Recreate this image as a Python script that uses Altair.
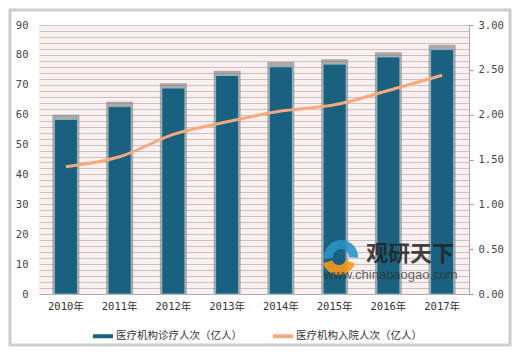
import altair as alt
import pandas as pd

years = ["2010年", "2011年", "2012年", "2013年", "2014年", "2015年", "2016年", "2017年"]
visits = [58.4, 62.7, 68.9, 73.1, 76.0, 76.9, 79.3, 81.8]
admissions = [1.42, 1.53, 1.78, 1.92, 2.04, 2.11, 2.27, 2.44]
s_bar = "医疗机构诊疗人次（亿人）"
s_line = "医疗机构入院人次（亿人）"

BLUE = "#19617f"
ORANGE = "#f5a97c"
NUM_FONT = "DejaVu Sans Mono, Noto Sans CJK SC"
CJK_FONT = "Noto Sans CJK SC"

df = pd.DataFrame({"year": years, "visits": visits, "adm": admissions, "series": [s_bar] * len(years)})

base = alt.Chart(df)
xenc = alt.X("year:N", sort=years, scale=alt.Scale(paddingInner=0.57, paddingOuter=0.285),
             axis=alt.Axis(title=None, labelAngle=0, ticks=False, domainColor="#b0b0b0",
                           labelFont=NUM_FONT, labelFontSize=10.5, labelColor="#333333", labelPadding=7))

left_axis = alt.Axis(title=None, values=list(range(0, 91, 2)), grid=True,
                     gridColor="#c9c1c1", gridWidth=1, ticks=False, domain=False,
                     labelExpr="datum.value % 10 == 0 ? datum.label : ''",
                     labelFont=NUM_FONT, labelFontSize=10.5, labelColor="#444444",
                     labelPadding=11)

shadow = base.transform_calculate(sh="datum.visits + 1.6").mark_bar(
    color="#7a7a7a", opacity=0.6, size=27
).encode(x=xenc, y=alt.Y("sh:Q", scale=alt.Scale(domain=[0, 90], nice=False), axis=left_axis))

bars = base.mark_bar(size=23, stroke="#9cbfd0", strokeWidth=0.8).encode(
    x=xenc,
    y=alt.Y("visits:Q", scale=alt.Scale(domain=[0, 90], nice=False), axis=None),
    color=alt.Color("series:N", scale=alt.Scale(domain=[s_bar, s_line], range=[BLUE, ORANGE]),
                    legend=alt.Legend(title=None, orient="none", legendX=54, legendY=301,
                                      direction="horizontal",
                                      symbolType="M-1,-0.2H1V0.2H-1Z", symbolSize=400,
                                      symbolStrokeWidth=0, labelFont=CJK_FONT, labelFontSize=10.5,
                                      labelColor="#333333", columnPadding=31, labelOffset=3)),
)

line = base.mark_line(color=ORANGE, strokeWidth=3, interpolate="monotone").encode(
    x=xenc,
    y=alt.Y("adm:Q", scale=alt.Scale(domain=[0, 3], nice=False),
            axis=alt.Axis(title=None, orient="right", values=[0, 0.5, 1, 1.5, 2, 2.5, 3], format=".2f",
                          grid=False, tickSize=4, tickColor="#999999", domainColor="#aaaaaa",
                          labelFont=NUM_FONT, labelFontSize=10.5, labelColor="#444444", labelPadding=5)),
)

deco = pd.DataFrame({"a": [0]})
frame = alt.Chart(deco).mark_rect(fill=None, stroke="#cccccc", strokeWidth=3).encode(
    x=alt.value(-29), x2=alt.value(471), y=alt.value(-15), y2=alt.value(320))
logo_b = alt.Chart(deco).mark_arc(theta=4.6, theta2=7.9, radius=17, radius2=8, color="#2a93c4",
                                  opacity=0.9).encode(x=alt.value(302), y=alt.value(232))
logo_o = alt.Chart(deco).mark_arc(theta=1.9, theta2=4.4, radius=17, radius2=7, color="#f39a1e",
                                  opacity=0.9).encode(x=alt.value(300), y=alt.value(233))
wm1 = alt.Chart(deco).mark_text(text="观研天下", font=CJK_FONT, fontSize=22, fontWeight="bold",
                                 color="#222222", opacity=0.85, align="left").encode(
    x=alt.value(327), y=alt.value(229))
wm2 = alt.Chart(deco).mark_text(text="www.chinabaogao.com", font="Liberation Sans", fontSize=13,
                                 color="#333333", opacity=0.75, align="left").encode(
    x=alt.value(285), y=alt.value(250))

chart = alt.layer(shadow, bars, line, logo_b, logo_o, wm1, wm2, frame).resolve_scale(
    y="independent").properties(
    width=430, height=269,
    padding={"left": 31, "top": 17, "right": 43, "bottom": 53},
    autosize=alt.AutoSizeParams(type="none"),
).configure_view(fill="#faf0f0", stroke=None)

chart.save("out.html", embed_options={"renderer": "svg", "actions": False})
